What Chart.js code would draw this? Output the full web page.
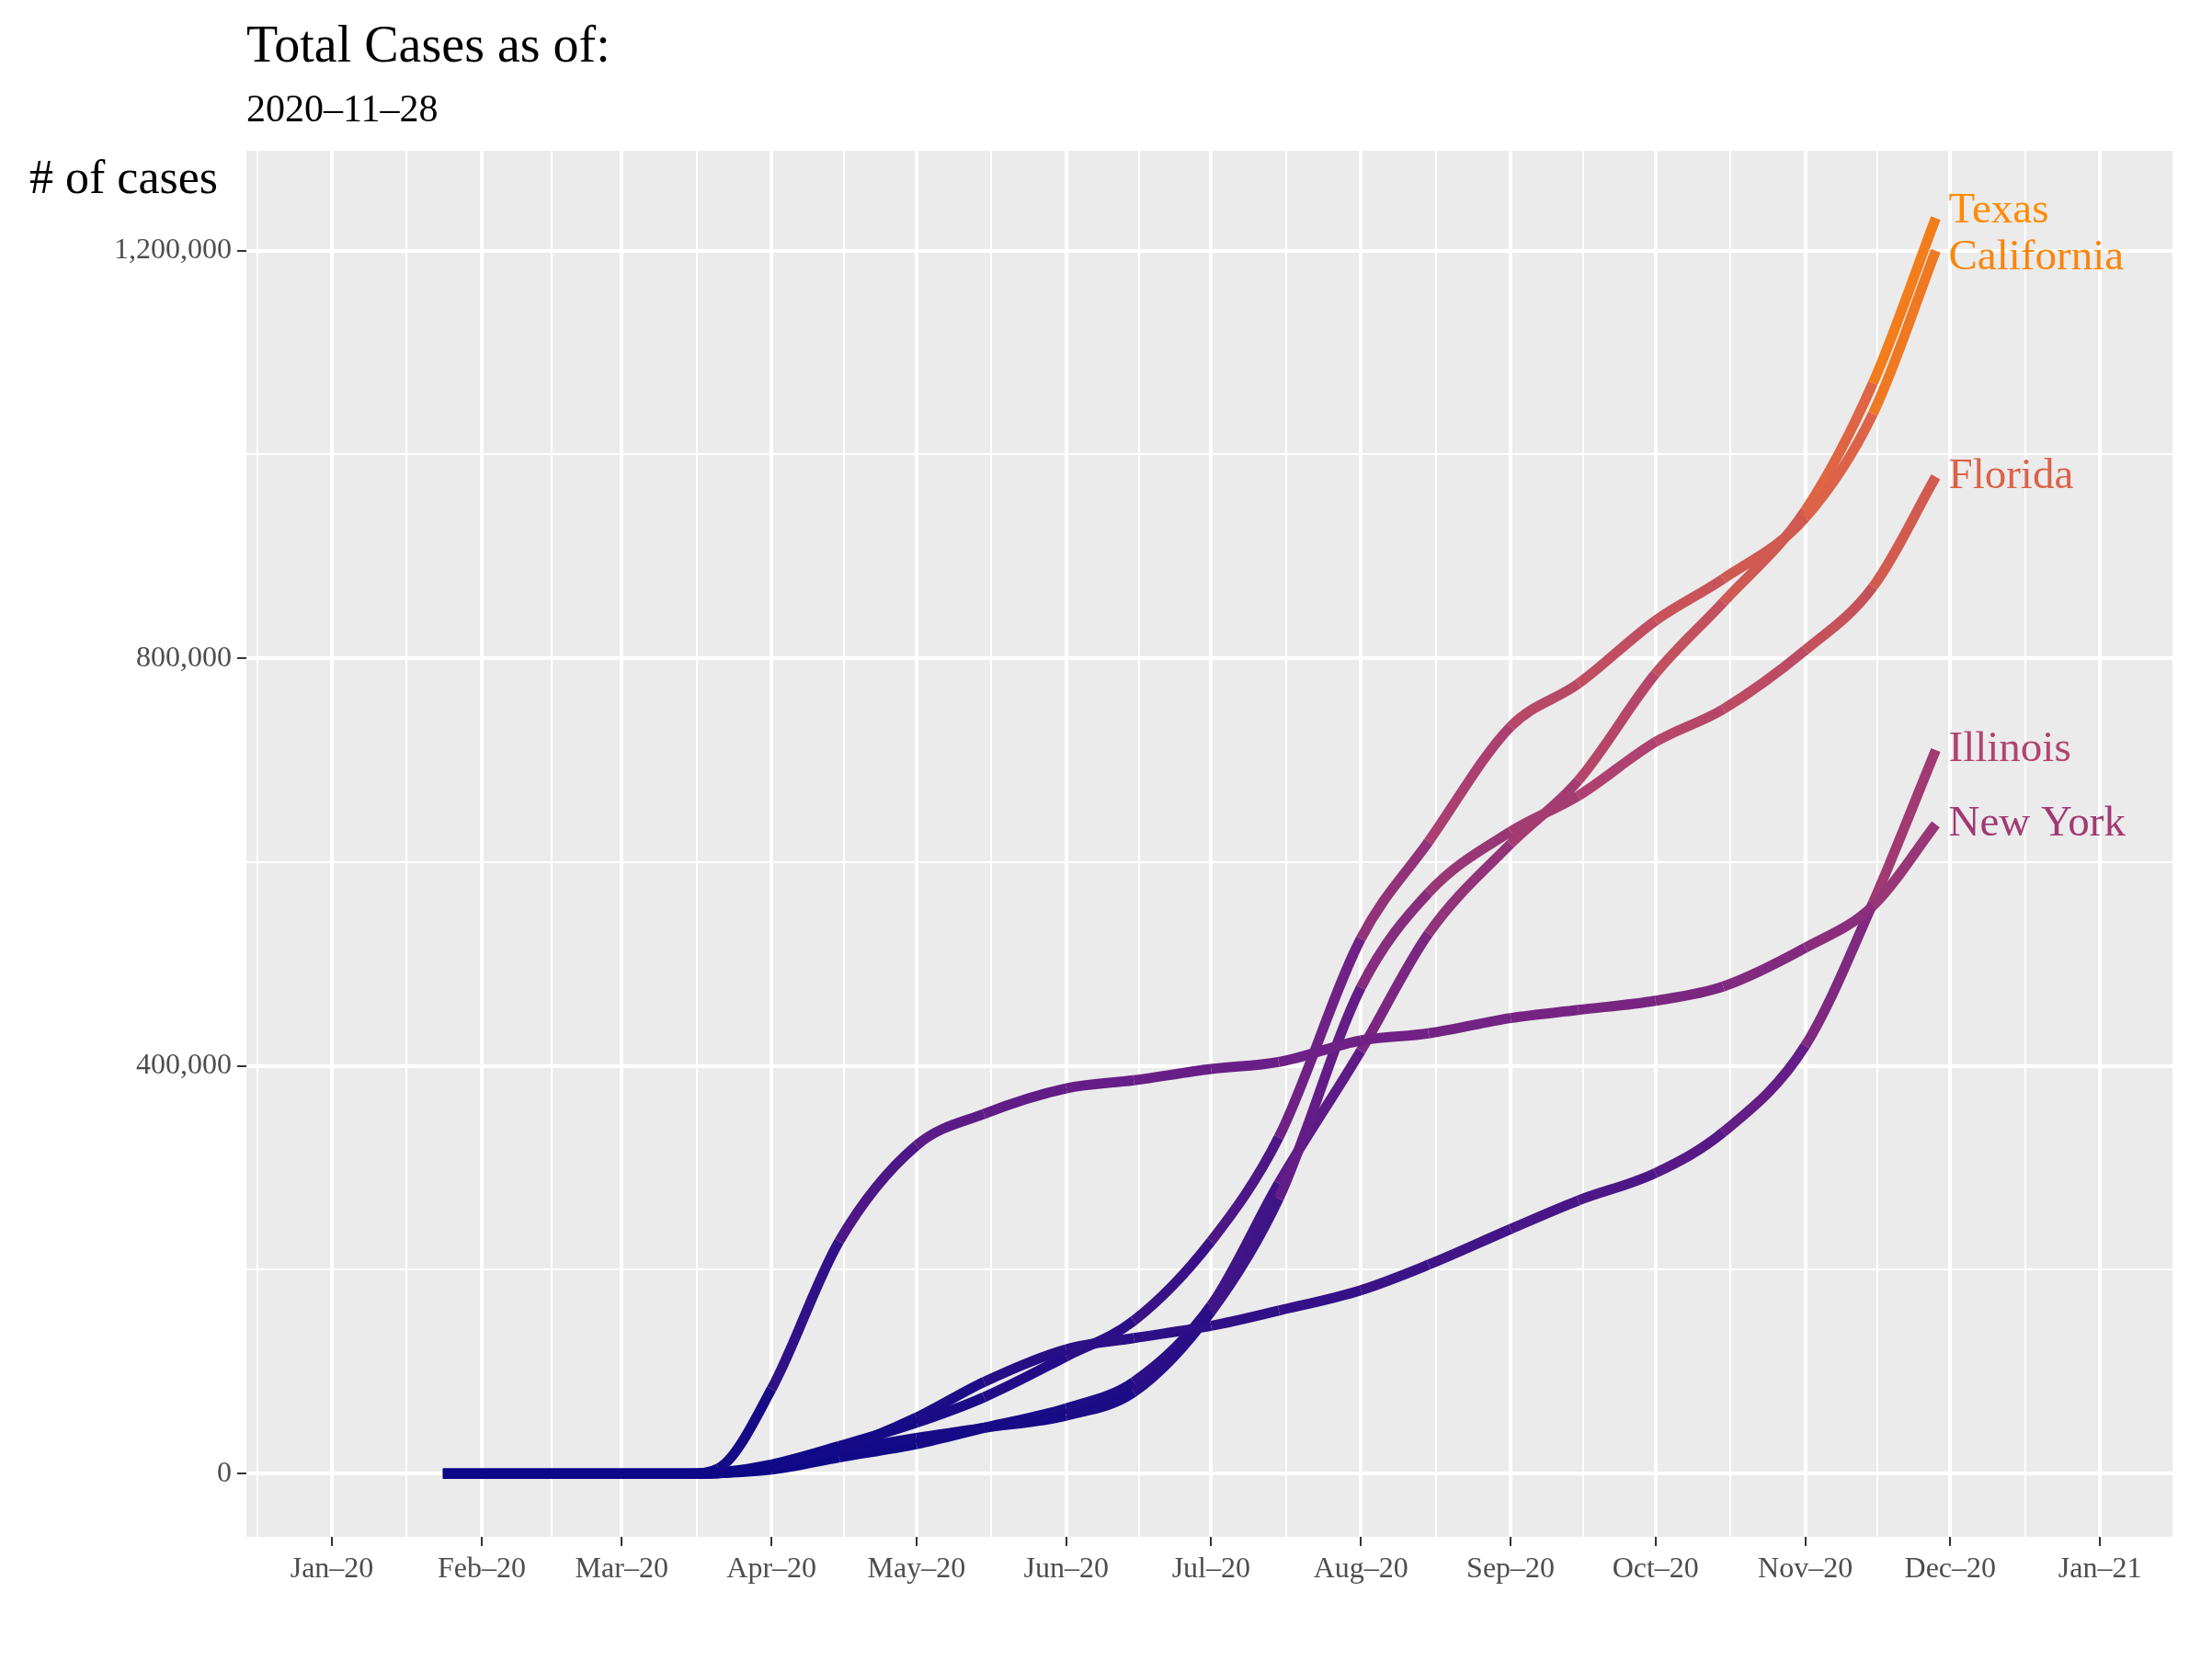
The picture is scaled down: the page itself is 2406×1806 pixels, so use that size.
<!DOCTYPE html>
<html><head><meta charset="utf-8">
<script src="https://cdn.jsdelivr.net/npm/chart.js@4/dist/chart.umd.min.js"></script>
<style>
  body { margin:0; background:#fff; }
  #wrap { position:relative; width:2406px; height:1806px; font-family:"Liberation Serif", serif; }
  .t { position:absolute; color:#000; white-space:nowrap; }
  canvas { position:absolute; left:0; top:0; }
</style></head>
<body>
<div id="wrap">
  <canvas id="c" width="2406" height="1806"></canvas>
  <div class="t" style="left:268px;top:16px;font-size:56px;">Total Cases as of:</div>
  <div class="t" style="left:268px;top:94px;font-size:42px;">2020–11–28</div>
  <div class="t" style="left:32px;top:163px;font-size:52px;"># of cases</div>
</div>
<script>
// days since 2020-01-01
const days = [23, 60, 74, 80, 91, 105, 121, 135, 152, 166, 182, 196, 213, 227, 244, 258, 274, 288, 305, 319, 332];
const states = ['Texas', 'California', 'Florida', 'Illinois', 'New York'];
// cumulative cases, thousands
const texas      = [0, 0, 0, 0.5, 4, 16, 29, 45, 64, 90, 165, 285, 415, 530, 618, 680, 785, 855, 945, 1070, 1232];
const california = [0, 0, 0, 1, 9, 27, 50, 75, 115, 150, 228, 330, 525, 620, 733, 775, 837, 878, 938, 1040, 1200];
const florida    = [0, 0, 0, 0.5, 7, 22, 35, 45, 57, 80, 159, 270, 477, 570, 630, 665, 718, 750, 808, 870, 978];
const illinois   = [0, 0, 0, 0.5, 7, 24, 55, 90, 122, 133, 145, 160, 180, 205, 240, 268, 295, 335, 420, 560, 710];
const newYork    = [0, 0, 0, 5, 83, 228, 322, 353, 378, 386, 397, 404, 425, 432, 447, 455, 464, 478, 516, 557, 637];
const series = [texas, california, florida, illinois, newYork];
const yTicks = [0, 400000, 800000, 1200000];
const yMinor = [200000, 600000, 1000000];
const monthLabels = ['Jan–20','Feb–20','Mar–20','Apr–20','May–20','Jun–20','Jul–20','Aug–20','Sep–20','Oct–20','Nov–20','Dec–20','Jan–21'];

const t0 = Date.UTC(2020, 0, 1);
const monthDays = monthLabels.map((_, i) => (Date.UTC(2020, i, 1) - t0) / 86400000);
const monthMinor = monthDays.map((d, i) => i ? (d + monthDays[i - 1]) / 2 : d - 15.5).concat([monthDays[12] + 15.5]);

const stops = [[0, [13, 8, 135]], [400000, [106, 30, 135]], [700000, [176, 66, 110]], [1000000, [222, 100, 70]], [1240000, [255, 140, 0]]];
function colorAt(v) {
  for (let i = 1; i < stops.length; i++) {
    if (v <= stops[i][0] || i === stops.length - 1) {
      const [a, ca] = stops[i - 1], [b, cb] = stops[i];
      const f = Math.max(0, Math.min(1, (v - a) / (b - a)));
      return 'rgb(' + ca.map((c, k) => Math.round(c + (cb[k] - c) * f)).join(',') + ')';
    }
  }
}
const fmt = v => v.toLocaleString('en-US');

const panelBg = {
  id: 'panelBg',
  beforeDraw(chart) {
    const a = chart.chartArea, ctx = chart.ctx;
    ctx.save(); ctx.fillStyle = '#ebebeb';
    ctx.fillRect(a.left, a.top, a.right - a.left, a.bottom - a.top);
    ctx.restore();
  }
};
const nudge = { 'Texas': -8, 'California': 8 };
const endLabels = {
  id: 'endLabels',
  afterDatasetsDraw(chart) {
    const ctx = chart.ctx, xs = chart.scales.x, ys = chart.scales.y;
    ctx.save();
    ctx.font = '47px "Liberation Serif", serif';
    ctx.textBaseline = 'middle';
    chart.data.datasets.forEach(ds => {
      const p = ds.data[ds.data.length - 1];
      ctx.fillStyle = colorAt(p.y);
      ctx.fillText(ds.label, xs.getPixelForValue(p.x) + 14, ys.getPixelForValue(p.y) + (nudge[ds.label] || 0));
    });
    ctx.restore();
  }
};

const datasets = states.map((s, i) => ({
  label: s,
  data: days.map((d, k) => ({ x: d, y: series[i][k] * 1000 })),
  borderWidth: 11,
  pointRadius: 0,
  cubicInterpolationMode: 'monotone',
  borderCapStyle: 'butt',
  borderColor: colorAt(series[i][series[i].length - 1] * 1000),
  segment: { borderColor: c => colorAt((c.p0.parsed.y + c.p1.parsed.y) / 2) },
})).reverse();

const tickFont = { family: '"Liberation Serif", serif', size: 32 };
new Chart(document.getElementById('c'), {
  type: 'line',
  data: { datasets },
  plugins: [panelBg, endLabels],
  options: {
    responsive: false, devicePixelRatio: 1, animation: false,
    layout: { padding: { top: 164, right: 43 } },
    plugins: { legend: { display: false }, tooltip: { enabled: false } },
    scales: {
      x: {
        type: 'linear', min: -17.7, max: 381,
        afterBuildTicks: s => { s.ticks = monthDays.map(v => ({ value: v })); },
        afterFit: s => { s.height = 134; },
        ticks: { callback: (v, i) => monthLabels[i], color: '#4d4d4d', font: tickFont, maxRotation: 0, autoSkip: false, padding: 6 },
        grid: { color: '#fff', lineWidth: 4, tickLength: 10, tickColor: '#333', tickWidth: 2 },
        border: { display: false },
      },
      x2: {
        type: 'linear', min: -17.7, max: 381, position: 'bottom', display: true,
        afterBuildTicks: s => { s.ticks = monthMinor.map(v => ({ value: v })); },
        afterFit: s => { s.height = 0; },
        ticks: { display: false },
        grid: { color: '#fff', lineWidth: 2, drawTicks: false },
        border: { display: false },
      },
      y: {
        type: 'linear', min: -62000, max: 1298000,
        afterBuildTicks: s => { s.ticks = yTicks.map(v => ({ value: v })); },
        afterFit: s => { s.width = 268; },
        ticks: { callback: v => fmt(v), color: '#4d4d4d', font: tickFont, padding: 6 },
        grid: { color: '#fff', lineWidth: 4, tickLength: 10, tickColor: '#333', tickWidth: 2 },
        border: { display: false },
      },
      y2: {
        type: 'linear', min: -62000, max: 1298000, position: 'left',
        afterBuildTicks: s => { s.ticks = yMinor.map(v => ({ value: v })); },
        afterFit: s => { s.width = 0; },
        ticks: { display: false },
        grid: { color: '#fff', lineWidth: 2, drawTicks: false },
        border: { display: false },
      },
    },
  },
});
</script>
</body></html>
